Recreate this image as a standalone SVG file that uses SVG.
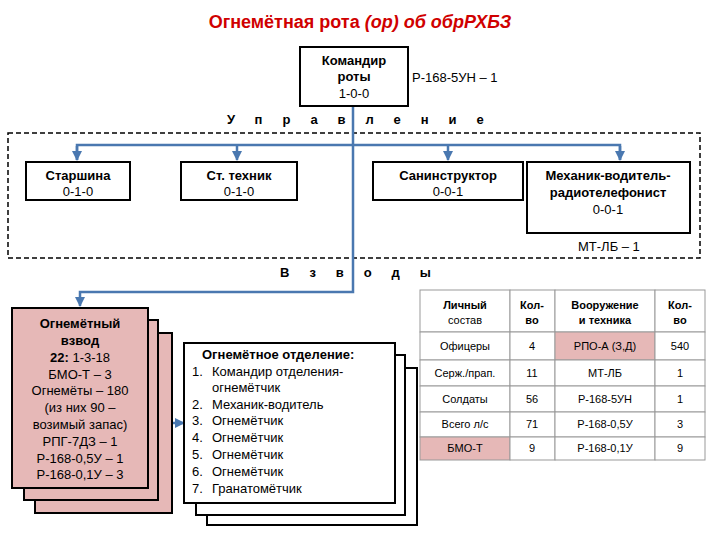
<svg xmlns="http://www.w3.org/2000/svg" width="720" height="540" viewBox="0 0 720 540">
<style>
text{font-family:"Liberation Sans",Arial,sans-serif;font-size:13px;fill:#000}
.b{font-weight:bold}
.box{fill:#fff;stroke:#000;stroke-width:2}
.pink{fill:#e6b8b7;stroke:#000;stroke-width:2}
.ln{stroke:#4a78b0;stroke-width:2.5;fill:none}
.td{fill:#fff;stroke:#999;stroke-width:1}
.tp{fill:#e6b8b7;stroke:#999;stroke-width:1}
</style>
<defs><marker id="a" viewBox="0 0 10 10" refX="9" refY="5" markerWidth="4" markerHeight="4" orient="auto"><path d="M0,0L10,5L0,10z" fill="#4a78b0"/></marker></defs>
<rect width="720" height="540" fill="#fff"/>
<text x="360" y="28" text-anchor="middle" style="font-size:18px;font-weight:bold;fill:#d00000">Огнемётная рота <tspan font-style="italic">(ор) об обрРХБЗ</tspan></text>
<text x="412" y="82">Р-168-5УН – 1</text>
<text x="227" y="124" class="b" letter-spacing="20">Управление</text>
<rect x="8" y="133" width="692" height="125" fill="none" stroke="#000" stroke-width="1.5" stroke-dasharray="5,3"/>
<text x="578" y="251">МТ-ЛБ – 1</text>
<text x="280" y="277" class="b" letter-spacing="20">Взводы</text>
<g id="connectors">
<path class="ln" d="M353,106V292H80V306" marker-end="url(#a)"/>
<path class="ln" d="M77,160V145H620V160"/>
<path class="ln" d="M77,146V160" marker-end="url(#a)"/>
<path class="ln" d="M237,146V160" marker-end="url(#a)"/>
<path class="ln" d="M448,146V160" marker-end="url(#a)"/>
<path class="ln" d="M620,146V160" marker-end="url(#a)"/>
<path class="ln" d="M172,423H184" marker-end="url(#a)"/>
</g>
<g id="commander"><rect class="box" x="300" y="47" width="108" height="59"/>
<text x="354" y="65" text-anchor="middle" class="b">Командир</text>
<text x="354" y="81" text-anchor="middle" class="b">роты</text>
<text x="354" y="98" text-anchor="middle">1-0-0</text></g>
<g id="starshina"><rect class="box" x="26" y="162" width="104" height="38"/>
<text x="78" y="180" text-anchor="middle" class="b">Старшина</text><text x="78" y="196" text-anchor="middle">0-1-0</text></g>
<g id="tech"><rect class="box" x="181" y="162" width="116" height="38"/>
<text x="239" y="180" text-anchor="middle" class="b">Ст. техник</text><text x="239" y="196" text-anchor="middle">0-1-0</text></g>
<g id="san"><rect class="box" x="373" y="162" width="150" height="38"/>
<text x="448" y="180" text-anchor="middle" class="b">Санинструктор</text><text x="448" y="196" text-anchor="middle">0-0-1</text></g>
<g id="mech"><rect class="box" x="527" y="162" width="163" height="71"/>
<text x="608" y="180" text-anchor="middle" class="b">Механик-водитель-</text>
<text x="608" y="197" text-anchor="middle" class="b">радиотелефонист</text>
<text x="608" y="214" text-anchor="middle">0-0-1</text></g>
<g id="platoon">
<rect class="pink" x="35" y="333" width="137" height="180"/>
<rect class="pink" x="24" y="320" width="134" height="180"/>
<rect class="pink" x="12" y="308" width="136" height="180"/>
<g text-anchor="middle">
<text x="80" y="328" class="b">Огнемётный</text>
<text x="80" y="345" class="b">взвод</text>
<text x="80" y="362"><tspan class="b">22:</tspan> 1-3-18</text>
<text x="80" y="379">БМО-Т – 3</text>
<text x="80" y="395">Огнемёты – 180</text>
<text x="80" y="412">(из них 90 –</text>
<text x="80" y="429">возимый запас)</text>
<text x="80" y="446">РПГ-7ДЗ – 1</text>
<text x="80" y="463">Р-168-0,5У – 1</text>
<text x="80" y="479">Р-168-0,1У – 3</text></g></g>
<g id="squad">
<rect class="box" x="207" y="368" width="210" height="157"/>
<rect class="box" x="196" y="355" width="209" height="160"/>
<rect class="box" x="184" y="343" width="211" height="160"/>
<text x="202" y="359" class="b">Огнемётное отделение:</text>
<text x="192" y="376">1.</text><text x="212" y="376">Командир отделения-</text>
<text x="212" y="392">огнемётчик</text>
<text x="192" y="409">2.</text><text x="212" y="409">Механик-водитель</text>
<text x="192" y="425">3.</text><text x="212" y="425">Огнемётчик</text>
<text x="192" y="442">4.</text><text x="212" y="442">Огнемётчик</text>
<text x="192" y="459">5.</text><text x="212" y="459">Огнемётчик</text>
<text x="192" y="476">6.</text><text x="212" y="476">Огнемётчик</text>
<text x="192" y="493">7.</text><text x="212" y="493">Гранатомётчик</text></g>
<g id="table">
<rect class="td" x="420" y="290" width="90" height="42"/><rect class="td" x="510" y="290" width="45" height="42"/><rect class="td" x="555" y="290" width="100" height="42"/><rect class="td" x="655" y="290" width="50" height="42"/>
<rect class="td" x="420" y="332" width="90" height="28"/><rect class="td" x="510" y="332" width="45" height="28"/><rect class="tp" x="555" y="332" width="100" height="28"/><rect class="td" x="655" y="332" width="50" height="28"/>
<rect class="td" x="420" y="360" width="90" height="26"/><rect class="td" x="510" y="360" width="45" height="26"/><rect class="td" x="555" y="360" width="100" height="26"/><rect class="td" x="655" y="360" width="50" height="26"/>
<rect class="td" x="420" y="386" width="90" height="26"/><rect class="td" x="510" y="386" width="45" height="26"/><rect class="td" x="555" y="386" width="100" height="26"/><rect class="td" x="655" y="386" width="50" height="26"/>
<rect class="td" x="420" y="412" width="90" height="25"/><rect class="td" x="510" y="412" width="45" height="25"/><rect class="td" x="555" y="412" width="100" height="25"/><rect class="td" x="655" y="412" width="50" height="25"/>
<rect class="tp" x="420" y="437" width="90" height="23"/><rect class="td" x="510" y="437" width="45" height="23"/><rect class="td" x="555" y="437" width="100" height="23"/><rect class="td" x="655" y="437" width="50" height="23"/>
<g text-anchor="middle" style="font-size:11px">
<text x="465" y="309" class="b" style="font-size:11px">Личный</text><text x="465" y="324" style="font-size:11px">состав</text>
<text x="532" y="309" class="b" style="font-size:11px">Кол-</text><text x="532" y="324" class="b" style="font-size:11px">во</text>
<text x="605" y="309" class="b" style="font-size:11px">Вооружение</text><text x="605" y="324" class="b" style="font-size:11px">и техника</text>
<text x="680" y="309" class="b" style="font-size:11px">Кол-</text><text x="680" y="324" class="b" style="font-size:11px">во</text>
<text x="465" y="350" style="font-size:11px">Офицеры</text><text x="532" y="350" style="font-size:11px">4</text><text x="605" y="350" style="font-size:11px">РПО-А (З,Д)</text><text x="680" y="350" style="font-size:11px">540</text>
<text x="465" y="377" style="font-size:11px">Серж./прап.</text><text x="532" y="377" style="font-size:11px">11</text><text x="605" y="377" style="font-size:11px">МТ-ЛБ</text><text x="680" y="377" style="font-size:11px">1</text>
<text x="465" y="403" style="font-size:11px">Солдаты</text><text x="532" y="403" style="font-size:11px">56</text><text x="605" y="403" style="font-size:11px">Р-168-5УН</text><text x="680" y="403" style="font-size:11px">1</text>
<text x="465" y="428" style="font-size:11px">Всего л/с</text><text x="532" y="428" style="font-size:11px">71</text><text x="605" y="428" style="font-size:11px">Р-168-0,5У</text><text x="680" y="428" style="font-size:11px">3</text>
<text x="465" y="452" style="font-size:11px">БМО-Т</text><text x="532" y="452" style="font-size:11px">9</text><text x="605" y="452" style="font-size:11px">Р-168-0,1У</text><text x="680" y="452" style="font-size:11px">9</text>
</g></g>
</svg>
